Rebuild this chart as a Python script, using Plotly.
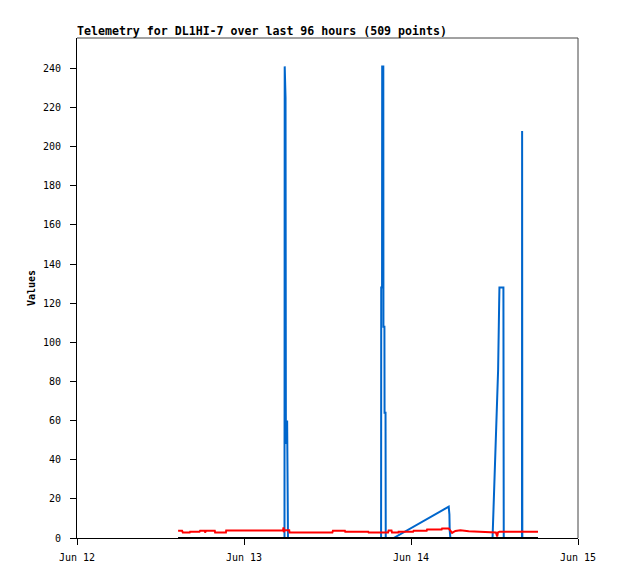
import pandas as pd
import plotly.graph_objects as go

# ---- data (hours after Jun 12 00:00) ----
start = pd.Timestamp("2024-06-12 00:00")

black_hours = [14.53, 66.25]
black_vals = [0, 0]

red_hours = [14.53, 15.10, 15.21, 16.20, 16.26, 17.60, 17.69, 18.35, 18.41, 18.56,
             19.80, 19.85, 21.40, 21.44, 29.60, 29.68, 29.72, 29.80, 30.50, 30.54,
             36.70, 36.78, 38.50, 38.55, 41.85, 41.91, 44.70, 44.78, 45.20, 45.27,
             46.20, 46.22, 48.30, 48.38, 50.25, 50.31, 52.40, 52.47, 53.42, 53.56,
             53.90, 54.38, 55.10, 56.29, 57.98, 59.75, 60.20, 60.38, 60.50, 60.71,
             63.90, 63.97, 64.02, 66.25]
red_vals = [3.7, 3.7, 2.8, 2.8, 3.2, 3.2, 3.7, 3.7, 2.8, 3.7,
            3.7, 2.8, 2.8, 3.8, 3.8, 5.4, 3.0, 3.9, 3.9, 2.8,
            2.8, 3.7, 3.7, 3.2, 3.2, 2.8, 2.8, 3.8, 3.8, 2.8,
            2.8, 3.2, 3.2, 3.7, 3.7, 4.3, 4.3, 4.9, 4.9, 4.0,
            2.6, 3.6, 4.0, 3.5, 3.2, 2.6, 2.8, 0.8, 2.8, 3.2,
            3.2, 3.6, 3.2, 3.2]

blue_hours = [14.53, 29.82, 29.85, 29.97, 30.02, 30.20, 30.32,
              43.70, 43.72, 43.84, 43.86, 44.02, 44.04, 44.18, 44.20, 44.34, 44.37,
              45.50, 53.42, 53.52, 53.56, 53.66,
              59.72, 59.75, 59.80, 59.99, 60.18, 60.38, 60.52, 60.67, 60.71, 61.28, 61.33,
              63.95, 63.97, 64.00, 66.25]
blue_vals = [0, 0, 241, 225, 48, 60, 0,
             0, 128, 128, 241, 241, 108, 108, 64, 64, 0,
             0, 16, 12, 4, 0,
             0, 3, 8, 26, 46, 66, 86, 120, 128, 128, 0,
             0, 208, 0, 0]

title_text = "Telemetry for DL1HI-7 over last 96 hours (509 points)"
y_title = "Values"


def to_time(hours):
    return [start + pd.Timedelta(hours=h) for h in hours]


fig = go.Figure()
fig.add_trace(go.Scatter(x=to_time(blue_hours), y=blue_vals, mode="lines",
                         line=dict(color="#0066CC", width=2), showlegend=False))
fig.add_trace(go.Scatter(x=to_time(red_hours), y=red_vals, mode="lines",
                         line=dict(color="#FF0000", width=2), showlegend=False))
fig.add_trace(go.Scatter(x=to_time(black_hours), y=black_vals, mode="lines",
                         line=dict(color="#000000", width=2), showlegend=False))

font_family = "DejaVu Sans Mono"
W, H = 610, 571

fig.update_layout(
    width=W, height=H,
    margin=dict(l=69, r=40, t=30, b=41),
    paper_bgcolor="white", plot_bgcolor="white",
    font=dict(family=font_family, size=10, color="black"),
    title=dict(text="<b>" + title_text + "</b>", x=69 / W, xanchor="left",
               y=1 - 23 / H, yanchor="middle",
               font=dict(family=font_family, size=11.6, color="black")),
    xaxis=dict(
        type="date",
        range=[start, start + pd.Timedelta(days=3)],
        dtick=86400000, tick0=start, tickformat="%b %d",
        showgrid=False, zeroline=False,
        showline=True, linecolor="black", linewidth=1,
        ticks="outside", ticklen=6, tickcolor="black", tickwidth=1,
        tickfont=dict(family=font_family, size=10, color="black"),
        ticklabelstandoff=4,
    ),
    yaxis=dict(
        range=[0, 255.5],
        tick0=0, dtick=20,
        showgrid=False, zeroline=False,
        showline=True, linecolor="black", linewidth=1,
        ticks="outside", ticklen=6, tickcolor="black", tickwidth=1,
        tickfont=dict(family=font_family, size=10, color="black"),
        ticklabelstandoff=7,
        title=dict(text="<b>" + y_title + "</b>", standoff=5,
                   font=dict(family=font_family, size=10, color="black")),
    ),
    shapes=[
        dict(type="line", xref="paper", yref="paper", x0=0, x1=1, y0=1, y1=1,
             line=dict(color="#444444", width=1)),
        dict(type="line", xref="paper", yref="paper", x0=1, x1=1, y0=0, y1=1,
             line=dict(color="#444444", width=1)),
    ],
)

fig.write_html("out.html")
